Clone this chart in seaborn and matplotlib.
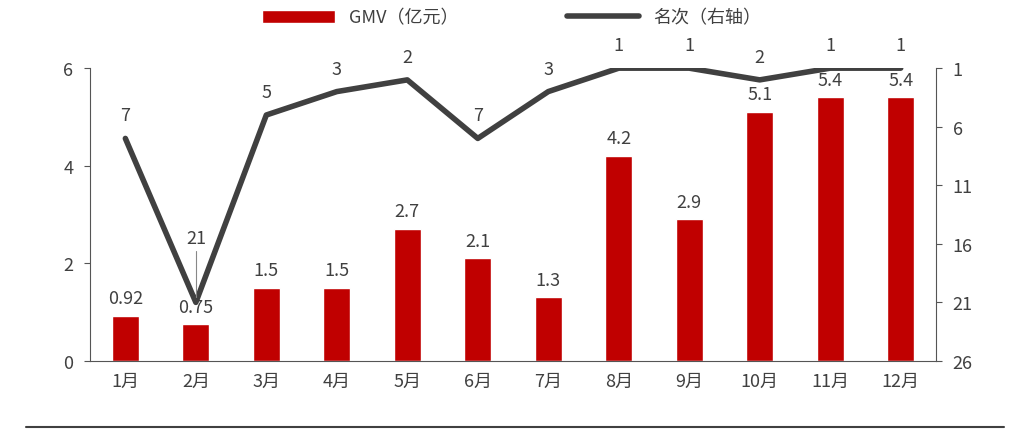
import matplotlib
matplotlib.use("Agg")
import matplotlib.pyplot as plt
import seaborn as sns
import pandas as pd

months = ["1月", "2月", "3月", "4月", "5月", "6月", "7月", "8月", "9月", "10月", "11月", "12月"]
gmv = [0.92, 0.75, 1.5, 1.5, 2.7, 2.1, 1.3, 4.2, 2.9, 5.1, 5.4, 5.4]
gmv_labels = ["0.92", "0.75", "1.5", "1.5", "2.7", "2.1", "1.3", "4.2", "2.9", "5.1", "5.4", "5.4"]
rank = [7, 21, 5, 3, 2, 7, 3, 1, 1, 2, 1, 1]

sns.set_style("white")
plt.rcParams['font.family'] = ['Noto Sans CJK SC', 'DejaVu Sans']

df = pd.DataFrame({"month": months, "gmv": gmv, "rank": rank})

fig = plt.figure(figsize=(10.24, 4.35), dpi=100)
ax = fig.add_axes([0.088, 0.168, 0.826, 0.673])
sns.barplot(data=df, x="month", y="gmv", color="#C00000", width=0.38, ax=ax,
            saturation=1, label="GMV（亿元）")
if ax.get_legend():
    ax.get_legend().remove()
ax.set_ylim(0, 6)
ax.set_yticks([0, 2, 4, 6])
ax.set_xlim(-0.5, 11.5)
ax.set_xlabel("")
ax.set_ylabel("")
for s in ["top", "right"]:
    ax.spines[s].set_visible(False)
ax.spines["left"].set_color("#555555")
ax.spines["bottom"].set_color("#555555")
ax.tick_params(axis="x", labelsize=13, colors="#404040", length=0, pad=8)
ax.tick_params(axis="y", labelsize=13, colors="#404040", length=4, color="#555555", pad=8,
               direction="out", left=True)
for i, (v, t) in enumerate(zip(gmv, gmv_labels)):
    ax.text(i, v + 0.18, t, ha="center", va="bottom", fontsize=13, color="#404040")

ax2 = ax.twinx()
sns.lineplot(x=list(range(12)), y=rank, color="#404040", linewidth=4, ax=ax2, label="名次（右轴）")
ax2.set_ylim(26, 1)
ax2.set_yticks([1, 6, 11, 16, 21, 26])
ax2.set_xlim(-0.5, 11.5)
for s in ["top", "left", "bottom"]:
    ax2.spines[s].set_visible(False)
ax2.spines["right"].set_color("#555555")
ax2.tick_params(axis="y", labelsize=13, colors="#404040", length=4, color="#555555", pad=8,
                direction="out", right=True)
for i, r in enumerate(rank):
    if i == 1:
        ax2.text(i, 16.3, str(r), ha="center", va="bottom", fontsize=13, color="#404040")
        ax2.plot([i, i], [16.6, 20.5], color="#888888", linewidth=0.8)
    else:
        ax2.text(i, r - 1.2, str(r), ha="center", va="bottom", fontsize=13, color="#404040")

h1, l1 = ax.get_legend_handles_labels()
h2, l2 = ax2.get_legend_handles_labels()
ax2.get_legend().remove()
fig.legend(h1 + h2, l1 + l2, loc="upper center", bbox_to_anchor=(0.5, 1.015), ncol=2,
           frameon=False, fontsize=13, columnspacing=6, handlelength=4,
           labelcolor="#404040")

fig.add_artist(plt.Line2D([0.025, 0.98], [0.016, 0.016], color="#404040", linewidth=1.5))
fig.savefig("out.png", dpi=100)
